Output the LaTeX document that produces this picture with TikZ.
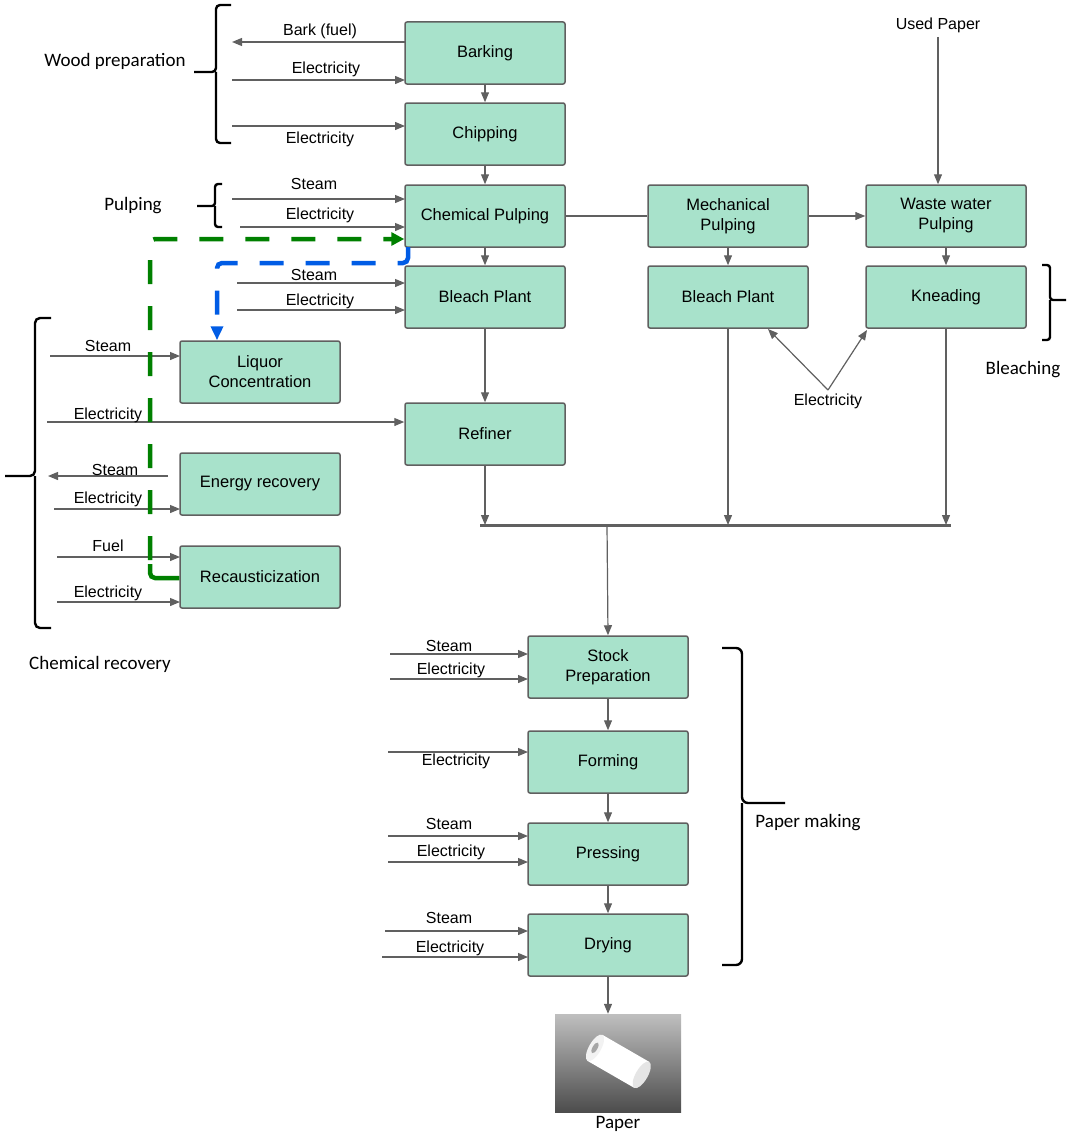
\documentclass[tikz,border=0pt]{standalone}
\usepackage{fontspec}
\setmainfont{Liberation Sans}
\newfontfamily\carfont{Carlito}
\usetikzlibrary{arrows.meta}
\definecolor{boxg}{HTML}{A8E2CB}
\definecolor{lgray}{HTML}{606060}
\begin{document}
\begin{tikzpicture}[x=1pt,y=-1pt,
 box/.style={draw=lgray,line width=1.5pt,fill=boxg,rounded corners=2pt,minimum width=160pt,minimum height=62pt,align=center,font=\fontsize{16.5}{20}\selectfont,inner sep=0},
 ar/.style={draw=lgray,line width=1.2pt,-{Triangle[length=10pt,width=8pt]}},
 ln/.style={draw=lgray,line width=1.2pt},
 lb/.style={font=\fontsize{16}{18}\selectfont,inner sep=1pt},
 br/.style={line width=2.4pt,black},
 bl/.style={font=\carfont\fontsize{19}{22}\selectfont}]
\useasboundingbox (0,0) rectangle (1072,1140);
% boxes
\node[box] (bark) at (485,53) {Barking};
\node[box] (chip) at (485,134) {Chipping};
\node[box] (cp) at (485,216) {Chemical Pulping};
\node[box] (bp) at (485,297) {Bleach Plant};
\node[box] (ref) at (485,434) {Refiner};
\node[box] (mp) at (728,216) {Mechanical\\Pulping};
\node[box] (bp2) at (728,297) {Bleach Plant};
\node[box] (ww) at (946,216) {Waste water\\Pulping};
\node[box] (kn) at (946,297) {Kneading};
\node[box] (lc) at (260,372) {Liquor\\Concentration};
\node[box] (er) at (260,484) {Energy recovery};
\node[box] (rc) at (260,577) {Recausticization};
\node[box] (sp) at (608,667) {Stock\\Preparation};
\node[box] (fo) at (608,762) {Forming};
\node[box] (pr) at (608,854) {Pressing};
\node[box] (dr) at (608,945) {Drying};
% main flow
\draw[ar] (bark) -- (chip);
\draw[ar] (chip) -- (cp);
\draw[ar] (cp) -- (bp);
\draw[ar] (bp) -- (ref);
\draw[ln] (cp) -- (mp);
\draw[ar] (mp) -- (ww);
\draw[ar] (mp) -- (bp2);
\draw[ar] (ww) -- (kn);
\node[lb] (up) at (938,25) {Used Paper};
\draw[ar] (938,37) -- (ww.north -| 938,0);
\coordinate (b1) at (480,525); \coordinate (b2) at (951,525);
\draw[draw=lgray,line width=3pt] (b1) -- (b2);
\draw[ar] (ref.south) -- (485,525);
\draw[ar] (bp2.south) -- (728,525);
\draw[ar] (kn.south) -- (946,525);
\draw[ar] (607,525) -- (sp.north);
\draw[ar] (sp) -- (fo);
\draw[ar] (fo) -- (pr);
\draw[ar] (pr) -- (dr);
\node[lb] (el) at (828,401) {Electricity};
\draw[ar] (828,390) -- (768,329);
\draw[ar] (828,390) -- (867,330);
% inputs
\draw[ar] (405,42) -- (232,42); \node[lb] at (320,31) {Bark (fuel)};
\draw[ar] (232,80) -- (405,80); \node[lb] at (326,69) {Electricity};
\draw[ar] (232,126) -- (405,126); \node[lb] at (320,139) {Electricity};
\draw[ar] (232,199) -- (405,199); \node[lb] at (314,184) {Steam};
\draw[ar] (240,227) -- (405,227); \node[lb] at (320,215) {Electricity};
\draw[ar] (237,283) -- (405,283); \node[lb] at (314,275) {Steam};
\draw[ar] (237,310) -- (405,310); \node[lb] at (320,301) {Electricity};
\draw[ar] (50,356) -- (180,356); \node[lb] at (108,346) {Steam};
\draw[ar] (47,422) -- (ref.west |- 0,422); \node[lb] at (108,415) {Electricity};
\draw[ar] (168,476) -- (48,476); \node[lb] at (115,470) {Steam};
\draw[ar] (54,509) -- (180,509); \node[lb] at (108,499) {Electricity};
\draw[ar] (57,557) -- (180,557); \node[lb] at (108,546) {Fuel};
\draw[ar] (57,602) -- (180,602); \node[lb] at (108,593) {Electricity};
\draw[ar] (390,654) -- (528,654); \node[lb] at (449,646) {Steam};
\draw[ar] (390,679) -- (528,679); \node[lb] at (451,670) {Electricity};
\draw[ar] (388,752) -- (528,752); \node[lb] at (456,761) {Electricity};
\draw[ar] (388,836) -- (528,836); \node[lb] at (449,824) {Steam};
\draw[ar] (388,862) -- (528,862); \node[lb] at (451,852) {Electricity};
\draw[ar] (385,931) -- (528,931); \node[lb] at (449,918) {Steam};
\draw[ar] (382,957) -- (528,957); \node[lb] at (450,948) {Electricity};
% recycle loops
\draw[draw=green!50!black,line width=4.5pt,dash pattern=on 24pt off 22pt,rounded corners=5pt,-{Triangle[length=13pt,width=13pt]}] (150,560) -- (150,239) -- (cp.west |- 0,239);
\draw[draw=green!50!black,line width=4.5pt,rounded corners=5pt] (rc.west |- 0,578) -- (150,578) -- (150,564);
\draw[draw=blue!60!cyan!90!black,line width=4.5pt,dash pattern=on 24pt off 22pt,rounded corners=5pt,-{Triangle[length=14pt,width=12pt]}] (408,247) -- (408,263) -- (217,263) -- (lc.north -| 217,0);
% brackets
\draw[br,rounded corners=4pt] (231,5) -- (216,5) -- (216,72) -- (194,72) (216,72) -- (216,143) -- (231,143);
\node[bl] at (115,61) {Wood preparation};
\draw[br,rounded corners=3pt] (222,184) -- (215,184) -- (215,206) -- (197,206) (215,206) -- (215,227) -- (222,227);
\node[bl] at (133,206) {Pulping};
\draw[br,rounded corners=5pt] (51,318) -- (35,318) -- (35,476) -- (5,476) (35,476) -- (35,628) -- (51,628);
\node[bl] at (100,664) {Chemical recovery};
\draw[br,rounded corners=3pt] (1042,265) -- (1050,265) -- (1050,300) -- (1066,300) (1050,300) -- (1050,340) -- (1042,340);
\node[bl] at (1023,370) {Bleaching};
\draw[br,rounded corners=6pt] (722,648) -- (742,648) -- (742,803) -- (785,803) (742,803) -- (742,965) -- (722,965);
\node[bl] at (808,823) {Paper making};
% paper image
\node[minimum width=126pt,minimum height=98pt,inner sep=0] (img) at (618,1063) {};
\shade[top color=black!25,bottom color=black!70] (555,1014) rectangle (681,1112);
\fill[white,rotate around={-30:(618,1060)}] (592,1046) rectangle (646,1076);
\fill[black!10,rotate around={-30:(618,1060)}] (646,1061) ellipse (6 and 15);
\fill[white!90!gray,rotate around={-30:(618,1060)}] (592,1061) ellipse (6 and 15);
\fill[black!35,rotate around={-30:(618,1060)}] (592,1061) ellipse (2.5 and 6);
\draw[ar] (dr.south) -- (dr.south |- img.north);
\node[bl] at (618,1124) {Paper};
\end{tikzpicture}
\end{document}
